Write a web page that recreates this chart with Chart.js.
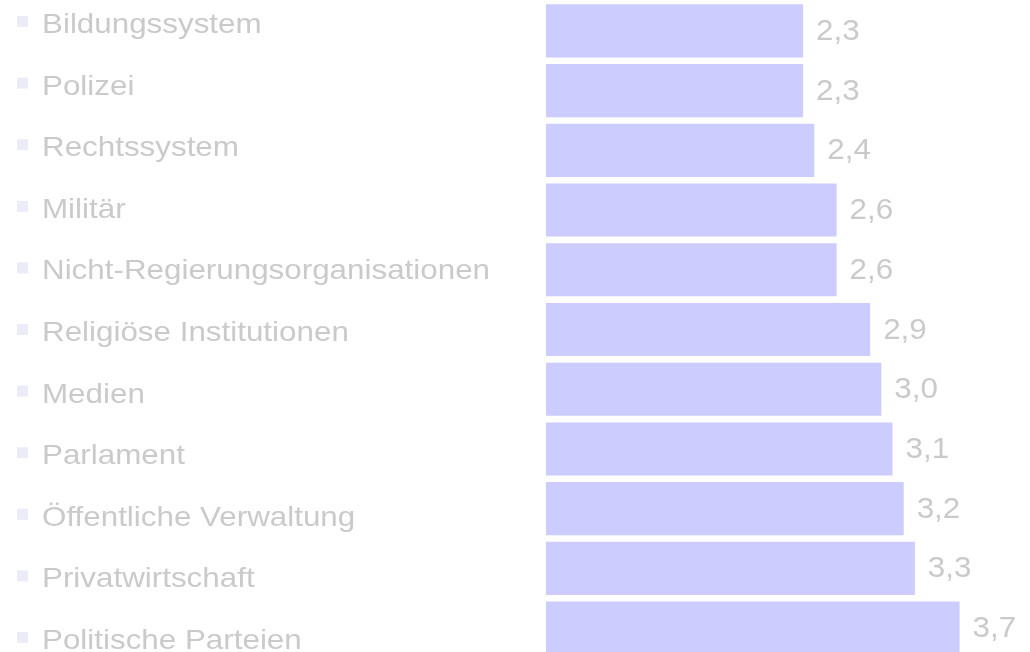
<!DOCTYPE html>
<html>
<head>
<meta charset="utf-8">
<script src="https://cdn.jsdelivr.net/npm/chart.js@4/dist/chart.umd.min.js"></script>
<style>
    html, body { margin: 0; padding: 0; background: #fff; overflow: hidden; }
    #wrap { position: relative; width: 1030px; height: 652px; overflow: hidden; }
    #chart { display: block; }
</style>
</head>
<body>
<div id="wrap">
    <canvas id="chart" width="1030" height="658"></canvas>
</div>
<script>
// Data
const categories = [
    'Bildungssystem',
    'Polizei',
    'Rechtssystem',
    'Militär',
    'Nicht-Regierungsorganisationen',
    'Religiöse Institutionen',
    'Medien',
    'Parlament',
    'Öffentliche Verwaltung',
    'Privatwirtschaft',
    'Politische Parteien'
];
const values = [2.3, 2.3, 2.4, 2.6, 2.6, 2.9, 3.0, 3.1, 3.2, 3.3, 3.7];

const textColor = '#cacaca';
const fontFamily = '"Liberation Sans", Arial, sans-serif';

// Category list on the left (bullet + text), text slightly stretched wide
const categoryList = {
    id: 'categoryList',
    afterDraw(chart) {
        const ctx = chart.ctx;
        const stretch = 1.12;
        categories.forEach(function(label, i) {
            const base = 33 + i * 61.6;
            ctx.save();
            ctx.fillStyle = '#ececf9';
            ctx.fillRect(17, base - 17, 11, 11);
            ctx.translate(42, base);
            ctx.scale(stretch, 1);
            ctx.font = '28px ' + fontFamily;
            ctx.textBaseline = 'alphabetic';
            ctx.textAlign = 'left';
            ctx.fillStyle = textColor;
            ctx.fillText(label, 0, 0);
            ctx.restore();
        });
    }
};

// Value labels at the bar ends
const valueLabels = {
    id: 'valueLabels',
    afterDatasetsDraw(chart) {
        const ctx = chart.ctx;
        const meta = chart.getDatasetMeta(0);
        meta.data.forEach(function(bar, i) {
            ctx.save();
            ctx.translate(bar.x + 13, bar.y + 1);
            ctx.scale(1.08, 1);
            ctx.font = '29px ' + fontFamily;
            ctx.fillStyle = textColor;
            ctx.textBaseline = 'middle';
            ctx.textAlign = 'left';
            ctx.fillText(values[i].toFixed(1).replace('.', ','), 0, 0);
            ctx.restore();
        });
    }
};

new Chart(document.getElementById('chart'), {
    type: 'bar',
    data: {
        labels: categories,
        datasets: [{
            data: values,
            backgroundColor: '#ccccff',
            borderWidth: 0,
            barPercentage: 0.89,
            categoryPercentage: 1
        }]
    },
    options: {
        indexAxis: 'y',
        responsive: false,
        animation: false,
        events: [],
        layout: {
            padding: { left: 546, right: 0, top: 1, bottom: 0 }
        },
        plugins: {
            legend: { display: false },
            tooltip: { enabled: false }
        },
        scales: {
            x: { display: false, min: 0, max: 4.33 },
            y: { display: false }
        }
    },
    plugins: [valueLabels, categoryList]
});
</script>
</body>
</html>
